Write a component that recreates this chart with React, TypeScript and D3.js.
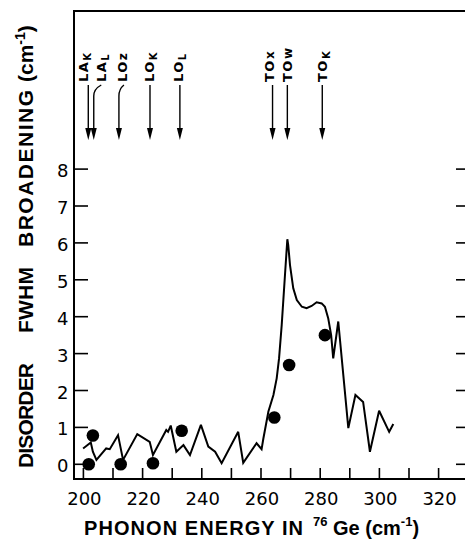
import React from "react";
import * as d3 from "d3";

// ---- data ----
const xTickValues = [200, 210, 220, 230, 240, 250, 260, 270, 280, 290, 300, 310, 320];
const xTickLabels = [200, 220, 240, 260, 280, 300, 320];
const yTickValues = [0, 1, 2, 3, 4, 5, 6, 7, 8];

const lineX = [
  199.9, 202.5, 203.2, 204.4, 207.7, 208.9, 211.7, 213.4, 218.2, 222.4, 223.5, 228.0, 228.6, 229.5,
  231.4, 233.8, 236.0, 239.7, 242.2, 244.5, 246.7, 252.3, 254.0, 258.5, 260.2, 260.8, 262.5, 264.2,
  265.3, 266.1, 267.0, 268.1, 268.9, 269.2, 269.8, 270.9, 272.1, 273.8, 275.4, 277.1, 278.8, 280.5,
  281.6, 282.7, 283.7, 284.4, 286.1, 289.5, 291.9, 294.5, 296.8, 299.9, 303.3, 304.7,
];
const lineY = [
  0.43, 0.59, 0.34, 0.12, 0.43, 0.41, 0.79, 0.12, 0.82, 0.61, 0.25, 0.93, 0.88, 1.05,
  0.34, 0.52, 0.25, 1.07, 0.48, 0.34, 0.03, 0.88, 0.04, 0.57, 0.41, 0.70, 1.43, 1.88,
  2.33, 2.87, 3.78, 5.13, 6.10, 5.94, 5.40, 4.77, 4.45, 4.27, 4.23, 4.29, 4.39, 4.36,
  4.27, 3.96, 3.50, 2.87, 3.87, 0.98, 1.88, 1.69, 0.34, 1.45, 0.88, 1.09,
];

const dotX = [201.8, 203.2, 212.6, 223.5, 233.2, 264.5, 269.5, 281.6];
const dotY = [0.0, 0.78, 0.0, 0.03, 0.91, 1.27, 2.69, 3.5];

const modeBranch = ["LA", "LA", "LO", "LO", "LO", "TO", "TO", "TO"];
const modePoint = ["K", "L", "z", "K", "L", "x", "w", "K"];
const modeEnergy = [201.65, 203.5, 212.0, 222.5, 232.6, 263.9, 268.9, 280.7];

// layout for annotation arrows (pixel offsets)
const arrowTopShift = [0, 7.5, 5, 0, 0, 0, 0, 0];
const labelShift = [0, 12.4, 7.7, 3.5, 3.3, 1.6, 4.4, 4.4];

export default function App() {
  const W = 465;
  const H = 541;
  const x = d3.scaleLinear().domain([200, 320]).range([83.4, 438.6]);
  const y = d3.scaleLinear().domain([0, 8]).range([464.3, 169.1]);
  const frameL = 74;
  const frameT = 11;
  const frameB = 479;
  const frameR = 465;

  const pts: [number, number][] = lineX.map((v, i) => [v, lineY[i]]);
  const linePath = d3
    .line<[number, number]>()
    .x((d) => x(d[0]))
    .y((d) => y(d[1]))
    .curve(d3.curveLinear)(pts) as string;

  const tickFont = "'DejaVu Sans', sans-serif";
  const titleFont = "'Liberation Sans', Arial, sans-serif";

  const arrowBottom = 140;
  const arrowHeadLen = 12;
  const arrowTop = 85;
  const bendY = 96;

  return (
    <svg
      width={W}
      height={H}
      style={{ position: "absolute", left: 0, top: 0, background: "#fff" }}
      xmlns="http://www.w3.org/2000/svg"
    >
      <rect x={0} y={0} width={W} height={H} fill="#fff" />
      {/* frame */}
      <g stroke="#000" strokeWidth={2} fill="none">
        <line x1={frameL} y1={frameT} x2={frameL} y2={frameB + 1} />
        <line x1={frameL - 1} y1={frameT} x2={frameR} y2={frameT} />
        <line x1={frameL - 1} y1={frameB} x2={frameR} y2={frameB} />
      </g>

      {/* x ticks */}
      <g stroke="#000" strokeWidth={1.6}>
        {xTickValues.map((t) => (
          <line key={t} x1={x(t)} x2={x(t)} y1={frameB} y2={frameB - 11} />
        ))}
      </g>
      <g fontFamily={tickFont} fontSize={18} textAnchor="middle" fill="#000">
        {xTickLabels.map((t) => (
          <text key={t} x={x(t) + 1} y={505}>
            {t}
          </text>
        ))}
      </g>

      {/* y ticks */}
      <g stroke="#000" strokeWidth={1.6}>
        {yTickValues.map((t) => (
          <line key={"l" + t} x1={frameL} x2={frameL + 14} y1={y(t)} y2={y(t)} />
        ))}
        {yTickValues.map((t) => (
          <line key={"r" + t} x1={frameR - 9} x2={frameR} y1={y(t)} y2={y(t)} />
        ))}
      </g>
      <g fontFamily={tickFont} fontSize={18} textAnchor="end" fill="#000">
        {yTickValues.map((t) => (
          <text key={t} x={68.5} y={y(t) + 8}>
            {t}
          </text>
        ))}
      </g>

      {/* data line */}
      <path d={linePath} fill="none" stroke="#000" strokeWidth={2} strokeLinejoin="miter" strokeMiterlimit={3} />

      {/* dots */}
      <g fill="#000">
        {dotX.map((v, i) => (
          <circle key={i} cx={x(v)} cy={y(dotY[i])} r={6.3} />
        ))}
      </g>

      {/* phonon mode arrows */}
      {modeEnergy.map((e, i) => {
        const ax = x(e);
        const topX = ax + arrowTopShift[i];
        const bent = arrowTopShift[i] !== 0;
        const d = bent
          ? `M${ax},${arrowBottom - arrowHeadLen} L${ax},${bendY} Q${ax},${arrowTop + 4} ${topX},${arrowTop}`
          : `M${ax},${arrowBottom - arrowHeadLen} L${ax},${arrowTop}`;
        const lx = ax + labelShift[i];
        const sub = modePoint[i];
        const isUpper = sub === sub.toUpperCase();
        return (
          <g key={i}>
            <path d={d} fill="none" stroke="#000" strokeWidth={1.4} />
            <path
              d={`M${ax - 3},${arrowBottom - arrowHeadLen} L${ax + 3},${arrowBottom - arrowHeadLen} L${ax},${arrowBottom} Z`}
              fill="#000"
            />
            <text
              transform={`translate(${lx},82) rotate(-90)`}
              fontFamily="'DejaVu Sans', sans-serif"
              fontWeight="bold"
              fontSize={13}
              letterSpacing={1.5}
              fill="#000"
            >
              {modeBranch[i]}
              <tspan fontSize={isUpper ? 10 : 12} dy={isUpper ? 3 : 0}>
                {sub}
              </tspan>
            </text>
          </g>
        );
      })}

      {/* y title */}
      <g fontFamily={titleFont} fontWeight="bold" fontSize={21} fill="#000">
        <text transform="translate(33,468) rotate(-90)" textLength={105} lengthAdjust="spacing">
          DISORDER
        </text>
        <text transform="translate(33,333) rotate(-90)" textLength={66} lengthAdjust="spacing">
          FWHM
        </text>
        <text transform="translate(33,247) rotate(-90)" textLength={157} lengthAdjust="spacing">
          BROADENING
        </text>
        <text transform="translate(33,82) rotate(-90)">
          (cm
          <tspan fontSize={14} dy={-8}>
            -1
          </tspan>
          <tspan dy={8}>)</tspan>
        </text>
      </g>

      {/* x title */}
      <g fontFamily={titleFont} fontWeight="bold" fontSize={20} fill="#000">
        <text x={84} y={535} textLength={219} lengthAdjust="spacing">
          PHONON ENERGY IN
        </text>
        <text x={313} y={526} fontSize={13}>
          76
        </text>
        <text x={333} y={535}>
          Ge (cm
          <tspan fontSize={13} dy={-9}>
            -1
          </tspan>
          <tspan dy={9}>)</tspan>
        </text>
      </g>
    </svg>
  );
}
